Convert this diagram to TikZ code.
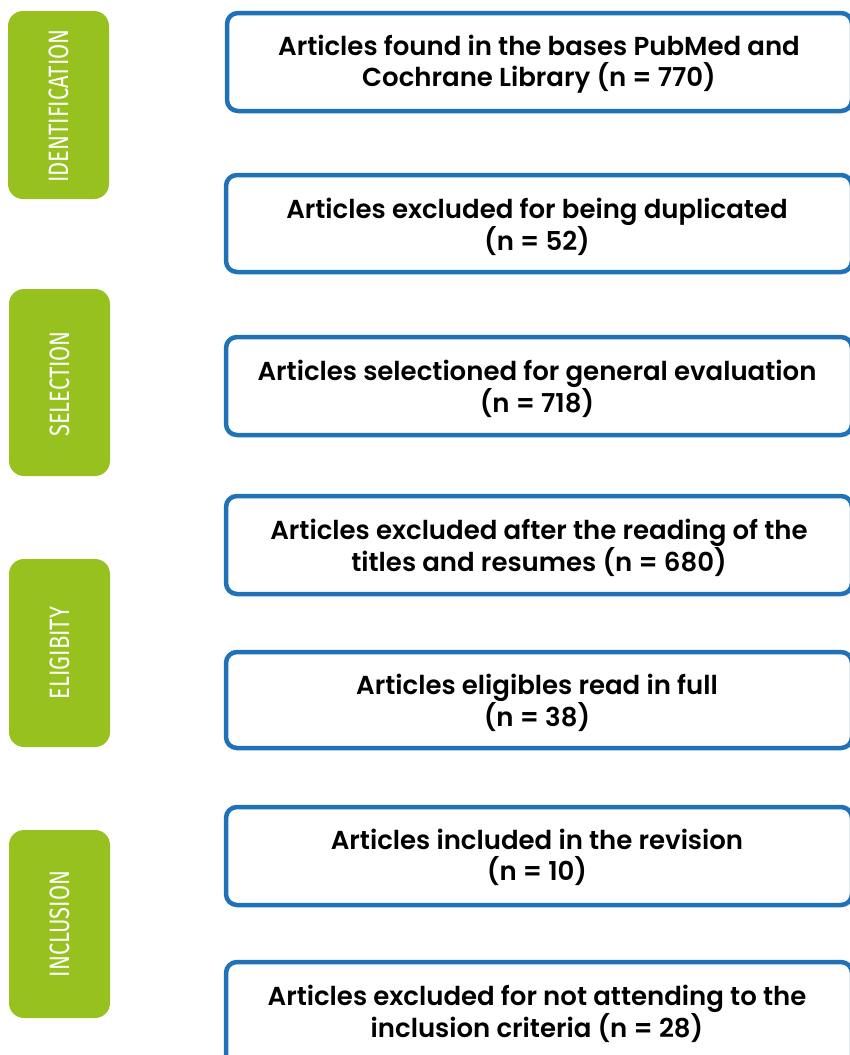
\documentclass[tikz,border=0pt]{standalone}
\usepackage{fontspec}
\setmainfont{Fira Sans}
\newfontfamily\semi{Poppins SemiBold}
\newfontfamily\cond[FakeStretch=0.78]{Fira Sans}
\definecolor{gr}{HTML}{97C11F}
\definecolor{bl}{HTML}{1F71B8}
\tikzset{
  x=1pt,y=-1pt,
  stage/.style={fill=gr,draw=none,rounded corners=15pt},
  stagetxt/.style={text=white,font=\cond\fontsize{28}{28}\selectfont,rotate=90,inner sep=0pt},
  boxr/.style={draw=bl,line width=4.5pt,fill=white,rounded corners=11pt},
  boxtxt/.style={font=\semi\fontsize{26}{31}\selectfont,align=center,text=black,inner sep=0pt}
}
\begin{document}
\begin{tikzpicture}
\useasboundingbox (0,0) rectangle (850,1055);
\clip (0,0) rectangle (850,1055);
% stages
\draw[stage] (8,11) rectangle (109,199);
\node[stagetxt] (s1) at (58.5,106) {IDENTIFICATION};
\draw[stage] (9,289) rectangle (110,476);
\node[stagetxt] (s2) at (59.5,384) {SELECTION};
\draw[stage] (9,559) rectangle (110,747);
\node[stagetxt] (s3) at (59.5,653) {ELIGIBITY};
\draw[stage] (9,830) rectangle (110,1018);
\node[stagetxt] (s4) at (59.5,924) {INCLUSION};
% boxes
\draw[boxr] (227,13) rectangle (852,111);
\node[boxtxt] (b1) at (539,64.5) {Articles found in the bases PubMed and\\Cochrane Library (n = 770)};
\draw[boxr] (226,175) rectangle (852,272);
\node[boxtxt] (b2) at (537,226.5) {Articles excluded for being duplicated\\(n = 52)};
\draw[boxr] (226,337) rectangle (852,435);
\node[boxtxt] (b3) at (537,388.5) {Articles selectioned for general evaluation\\(n = 718)};
\draw[boxr] (226,496) rectangle (852,594);
\node[boxtxt] (b4) at (539,547.5) {Articles excluded after the reading of the\\titles and resumes (n = 680)};
\draw[boxr] (226,652) rectangle (852,748);
\node[boxtxt] (b5) at (537,702.5) {Articles eligibles read in full\\(n = 38)};
\draw[boxr] (226,807) rectangle (852,905);
\node[boxtxt] (b6) at (537,857.5) {Articles included in the revision\\(n = 10)};
\draw[boxr] (226,962) rectangle (852,1070);
\node[boxtxt] (b7) at (537,1013.5) {Articles excluded for not attending to the\\inclusion criteria (n = 28)};
\end{tikzpicture}
\end{document}
